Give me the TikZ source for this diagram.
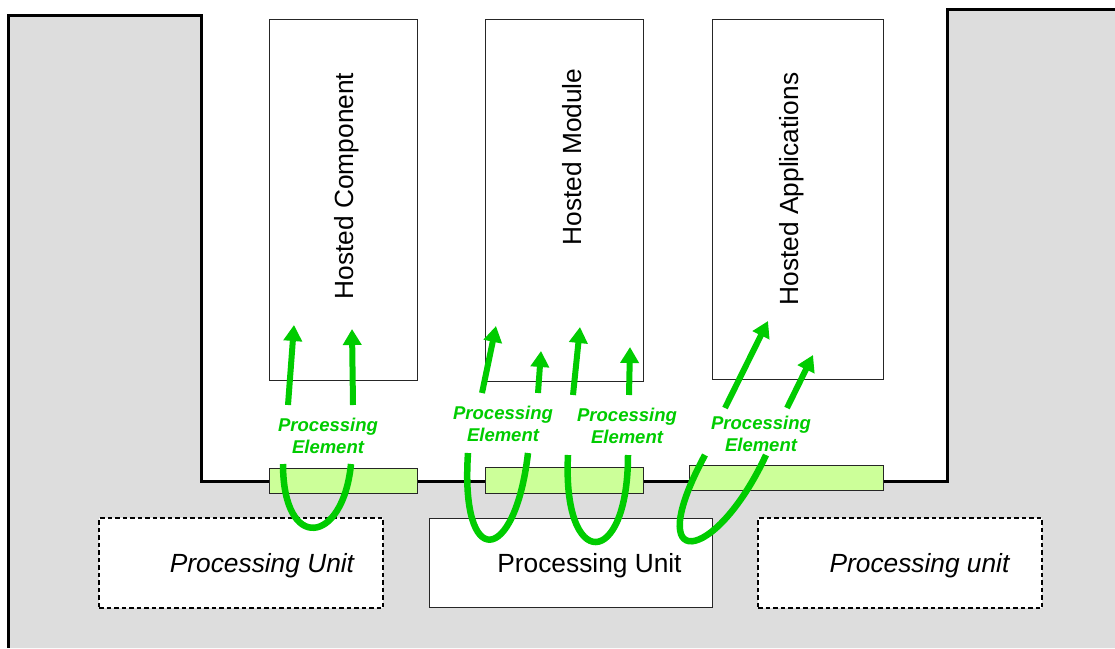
\documentclass[tikz,border=0pt]{standalone}
\usepackage{fontspec}
\setmainfont{Liberation Sans}
\usetikzlibrary{arrows.meta}
\definecolor{bggray}{HTML}{DDDDDD}
\definecolor{pegreen}{HTML}{00CC00}
\definecolor{barfill}{HTML}{CCFF99}
\begin{document}
\begin{tikzpicture}[x=1pt,y=-1pt,
  hostbox/.style={draw=black!85,line width=1pt,fill=white},
  barbox/.style={draw=black!85,line width=1pt,fill=barfill},
  puboxsolid/.style={draw=black!85,line width=1pt,fill=white},
  puboxdash/.style={draw=black,line width=1.8pt,dash pattern=on 4.5pt off 3pt,fill=white},
  hosttext/.style={rotate=90,font=\fontsize{26.3}{31}\selectfont,inner sep=0pt},
  putext/.style={font=\fontsize{26.3}{31}\selectfont,inner sep=0pt},
  pelabel/.style={text=pegreen,font=\fontsize{18.5}{21.5}\selectfont\bfseries\itshape,align=center,inner sep=0pt},
  pearrow/.style={draw=pegreen,line width=6pt,-{Triangle[width=18pt,length=16pt]}},
  peloop/.style={draw=pegreen,line width=6.5pt,line cap=butt}]
\useasboundingbox (0,0) rectangle (1115,648);
\fill[white] (0,0) rectangle (1115,648);
% gray enclosure
\fill[bggray] (8,15) -- (201,15) -- (201,481) -- (947,481) -- (947,9) -- (1115,9) -- (1115,648) -- (8,648) -- cycle;
\draw[line width=3pt,line join=miter] (8,648) -- (8,15) -- (201,15) -- (201,481) -- (947,481) -- (947,9) -- (1115,9);
% hosted boxes
\node[hostbox,minimum width=148pt,minimum height=361pt,inner sep=0pt] (hc) at (343,199.5) {};
\node[hostbox,minimum width=158pt,minimum height=362pt,inner sep=0pt] (hm) at (564,200) {};
\node[hostbox,minimum width=171pt,minimum height=360pt,inner sep=0pt] (ha) at (797.5,199) {};
\node[hosttext] (hct) at (347,186) {Hosted Component};
\node[hosttext] (hmt) at (572,157) {Hosted Module};
\node[hosttext] (hat) at (792,189) {Hosted Applications};
% green bars
\node[barbox,minimum width=148pt,minimum height=25pt,inner sep=0pt] (b1) at (343,480.5) {};
\node[barbox,minimum width=158pt,minimum height=26pt,inner sep=0pt] (b2) at (564,480) {};
\node[barbox,minimum width=194pt,minimum height=25pt,inner sep=0pt] (b3) at (786,477.5) {};
% processing units
\node[puboxdash,minimum width=284pt,minimum height=90pt,inner sep=0pt] (pu1) at (241,563) {};
\node[puboxsolid,minimum width=283pt,minimum height=89pt,inner sep=0pt] (pu2) at (570.5,562.5) {};
\node[puboxdash,minimum width=284pt,minimum height=90pt,inner sep=0pt] (pu3) at (900,563) {};
\node[putext,font=\fontsize{26.3}{31}\selectfont\itshape] (pu1t) at (262,566) {Processing Unit};
\node[putext] (pu2t) at (589.5,566) {Processing Unit};
\node[putext,font=\fontsize{26.3}{31}\selectfont\itshape] (pu3t) at (919.5,566) {Processing unit};
% processing element labels
\node[pelabel] (pe1) at (328,436) {Processing\\Element};
\node[pelabel] (pe2) at (503,424) {Processing\\Element};
\node[pelabel] (pe3) at (627,426) {Processing\\Element};
\node[pelabel] (pe4) at (761,434) {Processing\\Element};
% arrow coordinates
\coordinate (a1s) at (288,405); \coordinate (a1e) at (294,325);
\coordinate (a2s) at (353,405); \coordinate (a2e) at (352,329);
\coordinate (a3s) at (482,393); \coordinate (a3e) at (496,326);
\coordinate (a4s) at (538,393); \coordinate (a4e) at (541,351);
\coordinate (a5s) at (573,395); \coordinate (a5e) at (580,327);
\coordinate (a6s) at (629,395); \coordinate (a6e) at (630,347);
\coordinate (a7s) at (725,408); \coordinate (a7e) at (768,321);
\coordinate (a8s) at (787,408); \coordinate (a8e) at (813,355);
\draw[pearrow] (a1s) -- (a1e);
\draw[pearrow] (a2s) -- (a2e);
\draw[pearrow] (a3s) -- (a3e);
\draw[pearrow] (a4s) -- (a4e);
\draw[pearrow] (a5s) -- (a5e);
\draw[pearrow] (a6s) -- (a6e);
\draw[pearrow] (a7s) -- (a7e);
\draw[pearrow] (a8s) -- (a8e);
% loops
\coordinate (l1s) at (283,464); \coordinate (l1e) at (351,464);
\coordinate (l2s) at (468,453); \coordinate (l2e) at (528,453);
\coordinate (l3s) at (568,455); \coordinate (l3e) at (628,455);
\coordinate (l4s) at (705,455); \coordinate (l4e) at (766,455);
\draw[peloop] (l1s) .. controls (283,553) and (343,545) .. (l1e);
\draw[peloop] (l2s) .. controls (460,572) and (515,565) .. (l2e);
\draw[peloop] (l3s) .. controls (562,572) and (628,570) .. (l3e);
\draw[peloop] (l4s) .. controls (640,575) and (715,565) .. (l4e);
\end{tikzpicture}
\end{document}
